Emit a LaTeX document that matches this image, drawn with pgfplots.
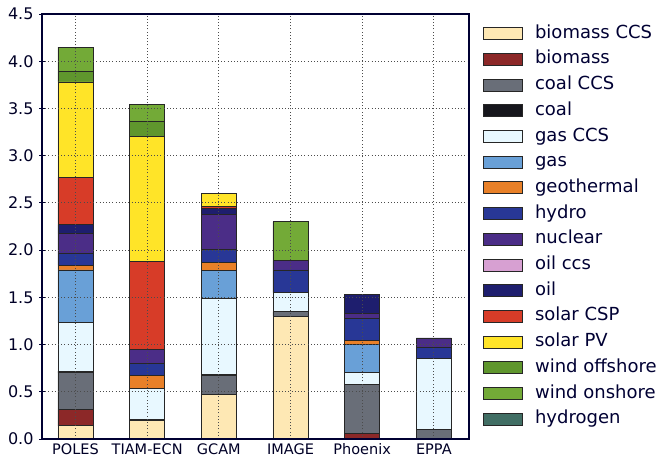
\documentclass[border=0pt]{standalone}
\usepackage{pgfplots}
\pgfplotsset{compat=1.18}
\usepackage{pgfplotstable}
\usepackage{fontspec}
\setmainfont{DejaVu Sans}

\definecolor{cBioCCS}{RGB}{254,232,180}
\definecolor{cBio}{RGB}{140,40,40}
\definecolor{cCoalCCS}{RGB}{105,110,120}
\definecolor{cCoal}{RGB}{22,22,28}
\definecolor{cGasCCS}{RGB}{232,248,255}
\definecolor{cGas}{RGB}{105,160,215}
\definecolor{cGeo}{RGB}{232,128,40}
\definecolor{cHydro}{RGB}{40,55,150}
\definecolor{cNuc}{RGB}{75,45,135}
\definecolor{cOilCCS}{RGB}{215,160,210}
\definecolor{cOil}{RGB}{30,30,110}
\definecolor{cCSP}{RGB}{215,60,40}
\definecolor{cPV}{RGB}{255,228,40}
\definecolor{cWoff}{RGB}{95,150,45}
\definecolor{cWon}{RGB}{115,170,55}
\definecolor{cH2}{RGB}{65,110,100}

% x: 0 POLES, 1 TIAM-ECN, 2 GCAM, 3 IMAGE, 4 Phoenix, 5 EPPA
\pgfplotstableread{
x bioccs bio coalccs coal gasccs gas geo hydro nuc oilccs oil csp pv woff won h2
0 0.14 0.17 0.39 0.02 0.51 0.56 0.05 0.13 0.21 0 0.09 0.50 1.01 0.11 0.26 0
1 0.20 0 0 0.01 0.33 0 0.13 0.13 0.15 0 0 0.93 1.32 0.16 0.185 0
2 0.47 0 0.20 0.01 0.81 0.29 0.09 0.14 0.37 0 0.06 0.025 0.135 0 0 0
3 1.30 0 0.05 0 0.20 0 0 0.24 0.10 0 0 0 0 0 0.41 0
4 0 0.06 0.52 0 0.12 0.30 0.04 0.24 0.05 0 0.20 0 0 0 0 0
5 0 0 0.10 0 0.75 0 0 0.12 0.10 0 0 0 0 0 0 0
}\data

\begin{document}
\begin{tikzpicture}[x=1pt,y=1pt]
\begin{axis}[
  at={(0pt,0pt)}, anchor=south west,
  scale only axis,
  width=427pt, height=425pt,
  ybar stacked, bar width=0.49,
  xmin=-0.467, xmax=5.49,
  ymin=0, ymax=4.5,
  xtick=data,
  xticklabels={POLES,TIAM-ECN,GCAM,IMAGE,Phoenix,EPPA},
  ytick={0,0.5,...,4.5},
  /pgf/number format/assume math mode=true,
  ticklabel style={text=black!85!blue},
  xticklabel style={font=\fontsize{14.5}{16}\selectfont, text height=11pt, text depth=0pt, inner sep=0pt, yshift=-1pt},
  yticklabel style={font=\fontsize{16}{18}\selectfont, xshift=-2pt,
    /pgf/number format/fixed, /pgf/number format/fixed zerofill, /pgf/number format/precision=1},
  xtick style={draw=none},
  ytick pos=left,
  tick align=center,
  major tick length=6pt,
  ytick style={line width=0.9pt, draw=black!80!blue},
  grid=major,
  major grid style={line width=0.8pt, dash pattern=on 1pt off 2.2pt, draw=black!70},
  axis line style={line width=1.2pt, draw=black!80!blue},
  axis on top,
  every axis plot/.append style={draw=black!85, line width=0.8pt},
  every axis plot post/.append style={
    legend image code/.code={\draw[##1, line width=0.9pt] (0pt,-6pt) rectangle (39pt,6pt); \path (49pt,0pt);}},
  legend cell align=left,
  legend style={
    at={(1,1)}, anchor=north west, xshift=14pt, yshift=-9pt,
    draw=none, fill=none, inner sep=0pt,
    font=\fontsize{18}{20}\selectfont,
    text=black!80!blue,
    row sep=4.7pt,
    nodes={inner sep=2pt, text height=13pt, text depth=4pt},
  },
]
\addplot[fill=cBioCCS] table[x=x,y=bioccs]{\data};
\addlegendentry{biomass CCS}
\addplot[fill=cBio] table[x=x,y=bio]{\data};
\addlegendentry{biomass}
\addplot[fill=cCoalCCS] table[x=x,y=coalccs]{\data};
\addlegendentry{coal CCS}
\addplot[fill=cCoal] table[x=x,y=coal]{\data};
\addlegendentry{coal}
\addplot[fill=cGasCCS] table[x=x,y=gasccs]{\data};
\addlegendentry{gas CCS}
\addplot[fill=cGas] table[x=x,y=gas]{\data};
\addlegendentry{gas}
\addplot[fill=cGeo] table[x=x,y=geo]{\data};
\addlegendentry{geothermal}
\addplot[fill=cHydro] table[x=x,y=hydro]{\data};
\addlegendentry{hydro}
\addplot[fill=cNuc] table[x=x,y=nuc]{\data};
\addlegendentry{nuclear}
\addplot[fill=cOilCCS] table[x=x,y=oilccs]{\data};
\addlegendentry{oil ccs}
\addplot[fill=cOil] table[x=x,y=oil]{\data};
\addlegendentry{oil}
\addplot[fill=cCSP] table[x=x,y=csp]{\data};
\addlegendentry{solar CSP}
\addplot[fill=cPV] table[x=x,y=pv]{\data};
\addlegendentry{solar PV}
\addplot[fill=cWoff] table[x=x,y=woff]{\data};
\addlegendentry{wind offshore}
\addplot[fill=cWon] table[x=x,y=won]{\data};
\addlegendentry{wind onshore}
\addplot[fill=cH2] table[x=x,y=h2]{\data};
\addlegendentry{hydrogen}
\end{axis}
\pgfresetboundingbox
\path[use as bounding box] (-42pt,-19pt) rectangle (621pt,439pt);
\end{tikzpicture}
\end{document}
